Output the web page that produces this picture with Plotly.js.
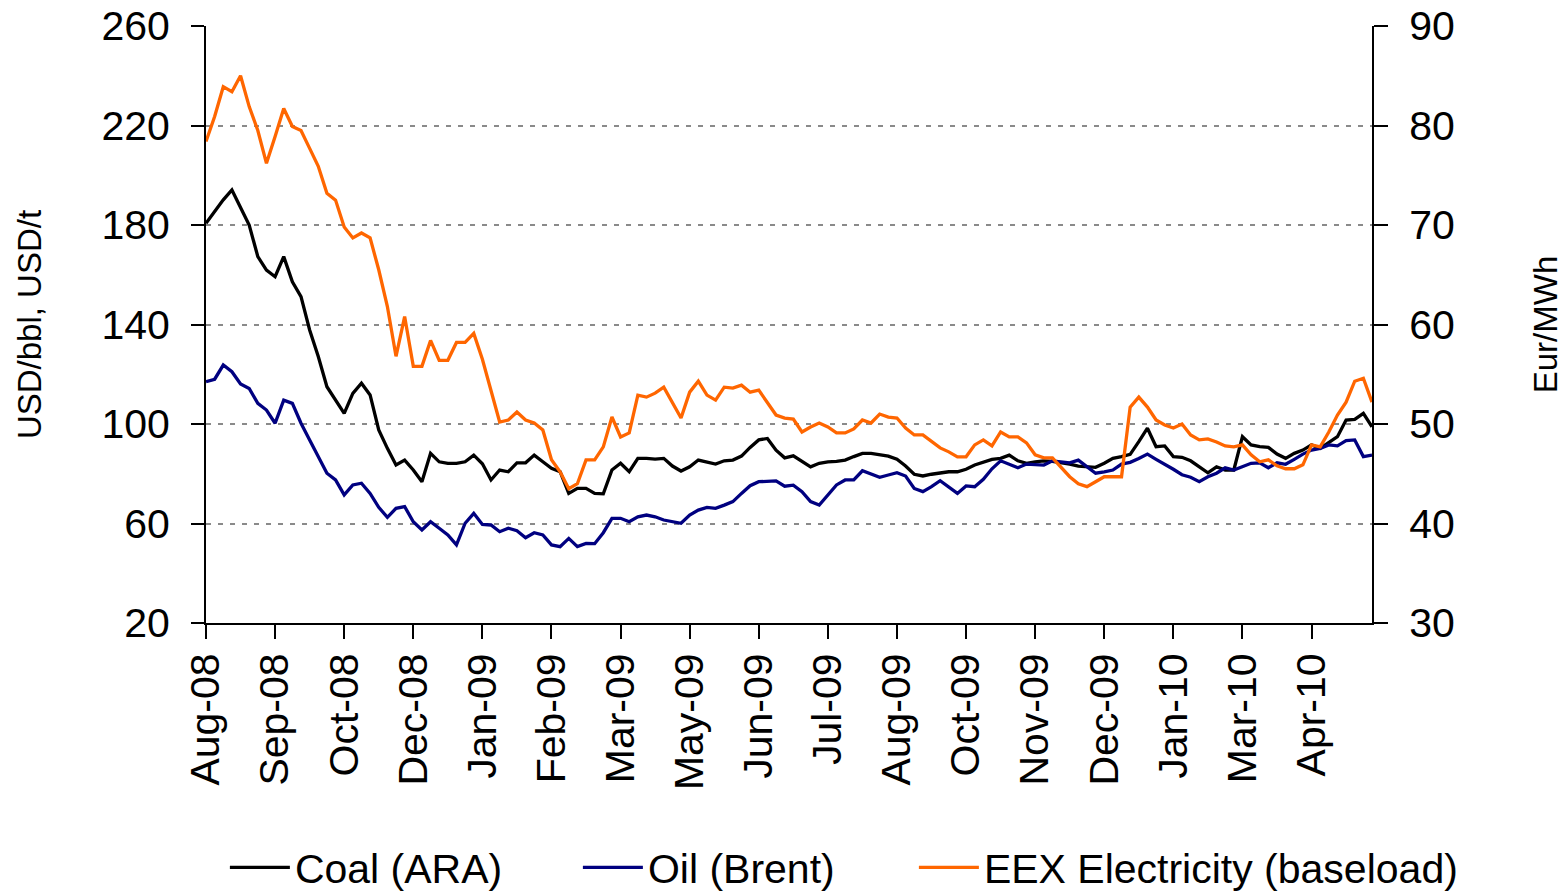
<!DOCTYPE html>
<html>
<head>
<meta charset="utf-8">
<script src="https://cdn.plot.ly/plotly-3.0.1.min.js"></script>
<style>
html,body{margin:0;padding:0;background:#ffffff;}
#chart{width:1565px;height:892px;}
</style>
</head>
<body>
<div id="chart"></div>
<script>
// Tick labels along the (trading-day) category axis
const tickLabels = ["Aug-08","Sep-08","Oct-08","Dec-08","Jan-09","Feb-09","Mar-09","May-09","Jun-09",
  "Jul-09","Aug-09","Oct-09","Nov-09","Dec-09","Jan-10","Mar-10","Apr-10"];
const tickPositions = [0,8,16,24,32,40,48,56,64,72,80,88,96,104,112,120,128];

// Coal (ARA), USD/t  (left axis)
const coal = [180.7,185.4,190.1,194.1,187.4,180.0,167.3,161.9,159.2,167.3,
  157.2,151.2,137.8,127.1,115.0,109.6,104.3,112.3,116.4,111.7,
  97.6,90.2,83.5,85.5,81.5,76.8,88.2,84.8,84.2,84.2,
  84.8,87.5,84.0,77.5,81.5,80.8,84.4,84.4,87.5,84.8,
  82.2,80.8,72.1,74.1,74.1,72.1,71.9,81.5,84.2,80.8,
  86.2,86.2,85.9,86.2,83.1,81.1,82.8,85.5,84.8,83.9,
  85.2,85.5,87.1,90.6,93.6,94.2,89.5,86.4,87.2,84.8,
  82.8,84.2,84.8,85.0,85.5,86.9,88.2,88.2,87.5,87.1,
  85.8,83.1,79.8,79.1,79.8,80.4,80.8,80.8,81.8,83.5,
  84.8,85.8,86.2,87.5,85.2,84.2,84.8,85.2,85.0,84.6,
  83.9,83.1,82.8,82.6,84.2,86.2,86.9,87.8,92.9,98.3,
  90.9,91.2,86.9,86.6,85.2,82.8,80.4,82.8,81.5,81.5,
  94.9,91.6,90.9,90.6,87.9,86.2,88.2,89.5,91.6,90.2,
  92.5,94.9,101.6,101.9,104.3,98.9];

// Oil (Brent), USD/bbl  (left axis)
const oil = [117.0,118.0,123.7,121.0,116.1,114.3,108.3,105.6,100.3,109.6,
  108.3,100.3,93.6,86.9,80.2,77.5,71.5,75.5,76.2,72.1,
  66.5,62.5,66.1,66.8,60.7,57.4,60.7,58.1,55.4,51.4,
  60.1,64.1,59.6,59.4,56.7,58.1,57.1,54.3,56.3,55.4,
  51.4,50.7,54.0,50.7,52.0,51.9,56.3,62.1,62.1,60.7,
  62.7,63.4,62.7,61.4,60.7,60.1,63.4,65.4,66.5,66.1,
  67.4,68.8,72.1,75.2,76.8,77.1,77.1,75.0,75.4,72.8,
  68.8,67.4,71.5,75.5,77.5,77.5,81.2,79.9,78.6,79.5,
  80.4,79.1,74.1,72.8,74.8,77.2,74.8,72.1,75.1,74.8,
  77.8,82.0,85.2,83.9,82.4,83.9,83.6,83.5,85.2,84.8,
  84.4,85.5,83.0,80.2,80.8,81.5,83.9,84.6,86.1,87.9,
  85.8,83.9,81.8,79.6,78.6,76.8,78.8,80.2,82.4,81.5,
  82.8,84.2,84.4,82.4,84.4,83.8,85.8,87.9,89.5,90.2,
  91.6,91.2,93.3,93.6,86.9,87.5];

// EEX Electricity (baseload), Eur/MWh  (right axis)
const electricity = [78.4,80.9,83.9,83.4,85.0,81.9,79.5,76.2,78.9,81.7,
  79.9,79.5,77.7,75.9,73.2,72.5,69.8,68.7,69.2,68.7,
  65.5,61.8,56.8,60.8,55.8,55.8,58.4,56.4,56.4,58.2,
  58.2,59.1,56.5,53.4,50.2,50.4,51.2,50.4,50.1,49.4,
  46.4,45.2,43.5,44.0,46.4,46.4,47.7,50.7,48.7,49.1,
  52.9,52.7,53.1,53.7,52.1,50.6,53.2,54.3,52.9,52.4,
  53.7,53.6,53.9,53.2,53.4,52.2,50.9,50.6,50.5,49.2,
  49.7,50.1,49.7,49.1,49.1,49.5,50.4,50.1,51.0,50.7,
  50.6,49.6,48.9,48.9,48.2,47.6,47.2,46.7,46.7,47.9,
  48.4,47.8,49.2,48.7,48.7,48.1,46.9,46.6,46.6,45.7,
  44.7,44.0,43.7,44.2,44.7,44.7,44.7,51.7,52.7,51.7,
  50.4,49.9,49.6,50.0,48.9,48.4,48.5,48.2,47.8,47.7,
  47.9,46.9,46.2,46.4,45.8,45.5,45.5,45.9,47.9,47.7,
  49.2,50.9,52.2,54.3,54.6,52.2];

const dayIndex = coal.map((_, i) => i);

const FONT = "Liberation Sans, Arial, sans-serif";

const traces = [
  {x: dayIndex, y: coal, name: "Coal (ARA)", type: "scatter", mode: "lines",
   line: {color: "#000000", width: 3.3}, yaxis: "y", legendwidth: 259},
  {x: dayIndex, y: oil, name: "Oil (Brent)", type: "scatter", mode: "lines",
   line: {color: "#000080", width: 3.3}, yaxis: "y", legendwidth: 242},
  {x: dayIndex, y: electricity, name: "EEX Electricity (baseload)", type: "scatter", mode: "lines",
   line: {color: "#FF6600", width: 3.3}, yaxis: "y2"}
];

const layout = {
  width: 1565, height: 892,
  paper_bgcolor: "#ffffff", plot_bgcolor: "#ffffff",
  font: {family: FONT, color: "#000000", size: 41},
  margin: {l: 206, r: 193, t: 26, b: 269, autoexpand: false},
  showlegend: true,
  legend: {orientation: "h", x: -0.0001, xanchor: "left", y: -0.41, yanchor: "middle",
    itemwidth: 60, borderwidth: 0, indentation: 19,
    font: {family: FONT, size: 41, color: "#000000"}, bgcolor: "rgba(0,0,0,0)", traceorder: "normal"},
  xaxis: {
    type: "linear", range: [0, 135], tickmode: "array",
    tickvals: tickPositions, ticktext: tickLabels, tickangle: -90,
    showgrid: false, zeroline: false, showline: true, linecolor: "#000000", linewidth: 2,
    ticks: "outside", ticklen: 14, tickwidth: 2, tickcolor: "#000000",
    tickfont: {family: FONT, size: 41, color: "#000000"}, ticklabelstandoff: -2
  },
  yaxis: {
    range: [20, 260], tick0: 20, dtick: 40, tickmode: "linear",
    showgrid: true, gridcolor: "#8a8a8a", gridwidth: 2, griddash: "5px,7px",
    zeroline: false, showline: true, linecolor: "#000000", linewidth: 2,
    ticks: "outside", ticklen: 13, tickwidth: 2, tickcolor: "#000000",
    tickfont: {family: FONT, size: 41, color: "#000000"}, ticklabelstandoff: 13,
    title: {text: "USD/bbl, USD/t", font: {family: FONT, size: 33, color: "#000000"}, standoff: 50}
  },
  yaxis2: {
    range: [30, 90], tick0: 30, dtick: 10, tickmode: "linear",
    overlaying: "y", side: "right", anchor: "x",
    showgrid: false, zeroline: false, showline: true, linecolor: "#000000", linewidth: 2,
    ticks: "outside", ticklen: 14, tickwidth: 2, tickcolor: "#000000",
    tickfont: {family: FONT, size: 41, color: "#000000"}, ticklabelstandoff: 13,
    title: {text: "Eur/MWh", font: {family: FONT, size: 33, color: "#000000"}, standoff: 80}
  }
};

Plotly.newPlot("chart", traces, layout, {displayModeBar: false, staticPlot: true});
</script>
</body>
</html>
